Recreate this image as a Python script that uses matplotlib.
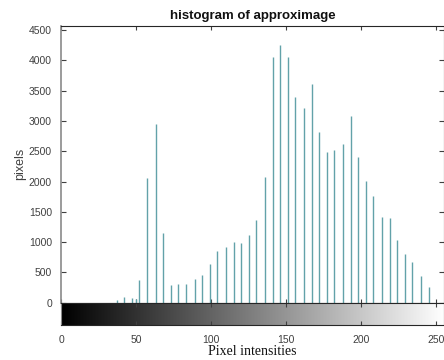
import matplotlib.pyplot as plt
import matplotlib
import numpy as np

# gray levels that occur in the approximation image and their counts
levels = [37, 42, 47, 50, 52, 57, 63, 68, 73, 78, 83, 89, 94, 99, 104, 110, 115, 120,
          125, 130, 136, 141, 146, 151, 156, 162, 167, 172, 177, 182, 188, 193, 198,
          203, 208, 214, 219, 224, 229, 234, 240, 245]
counts = [44, 88, 80, 66, 374, 2066, 2956, 1143, 286, 308, 308, 385, 456, 635, 850, 912,
          1000, 984, 1110, 1357, 2082, 4060, 4247, 4050, 3396, 3220, 3616, 2824, 2495,
          2528, 2626, 3088, 2401, 2016, 1753, 1412, 1401, 1027, 808, 665, 434, 253]
xticks = [0, 50, 100, 150, 200, 250]
yticks = [0, 500, 1000, 1500, 2000, 2500, 3000, 3500, 4000, 4500]

dark = '#262626'
tickcol = '#404040'

fig = plt.figure(figsize=(4.44, 3.60), dpi=100)

ax = fig.add_axes([61/444., 1 - 302.7/360., 383/444., (302.7 - 25.7)/360.])
ax.vlines(levels, 0, counts, color='#62a2a9', lw=1.0)
ax.set_xlim(0, 255)
ax.set_ylim(0, 4571)
ax.set_xticks(xticks)
ax.set_xticklabels([])
ax.set_yticks(yticks)
ax.tick_params(axis='both', direction='in', length=3.5, width=0.8, colors=tickcol,
               top=True, right=True, labelsize=7.5, pad=6.5)
ax.tick_params(axis='x', length=3)
for s in ['top', 'right', 'bottom']:
    ax.spines[s].set_color(dark)
    ax.spines[s].set_linewidth(0.8)
ax.spines['left'].set_color('#8a8a8a')
ax.spines['left'].set_linewidth(1.2)
for lab in ax.get_yticklabels():
    lab.set_fontfamily('Liberation Sans')
ax.set_title('histogram of approximage', fontsize=9.5, fontweight='bold',
             family='Liberation Sans', color='#111111', pad=5)
ax.set_ylabel('pixels', fontsize=9, family='Liberation Sans', color=tickcol, labelpad=2)

# gray ramp under the histogram
cax = fig.add_axes([61/444., 1 - 325/360., 383/444., 22.3/360.])
ramp = np.linspace(0, 255, 256).reshape(1, -1)
cax.imshow(ramp, cmap='gray', aspect='auto', extent=[0, 255, 0, 1], vmin=0, vmax=255)
cax.set_xlim(0, 255)
cax.set_yticks([])
cax.set_xticks(xticks)
cax.tick_params(axis='x', direction='in', length=3, width=0.8, colors=tickcol,
                top=True, labelsize=7.5, pad=7)
for lab in cax.get_xticklabels():
    lab.set_fontfamily('Liberation Sans')
for s in cax.spines.values():
    s.set_color(dark)
    s.set_linewidth(0.8)
cax.spines['left'].set_color('#8a8a8a')
cax.set_xlabel('Pixel intensities', fontsize=10, family='Liberation Serif',
               color='#111111', labelpad=0)

plt.savefig('out.png', dpi=100)
